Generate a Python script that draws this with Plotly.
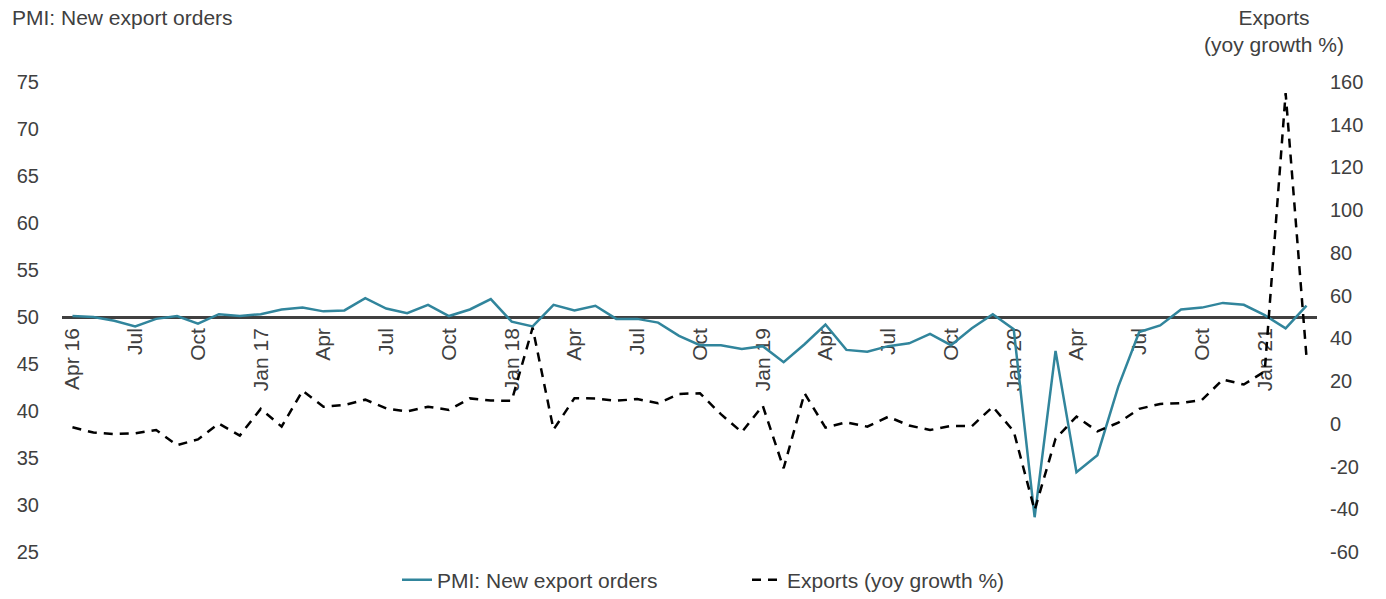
import plotly.graph_objects as go

# Monthly data, Apr 2016 - Mar 2021
months_index = list(range(60))
pmi_new_export_orders = [
    50.1, 50.0, 49.6, 49.0, 49.8, 50.1, 49.3, 50.3, 50.1,
    50.3, 50.8, 51.0, 50.6, 50.7, 52.0, 50.9, 50.4, 51.3, 50.1, 50.8, 51.9,
    49.5, 49.0, 51.3, 50.7, 51.2, 49.8, 49.8, 49.4, 48.0, 47.0, 47.0, 46.6,
    46.9, 45.2, 47.1, 49.2, 46.5, 46.3, 46.9, 47.2, 48.2, 47.0, 48.8, 50.3,
    48.7, 28.7, 46.4, 33.5, 35.3, 42.6, 48.4, 49.1, 50.8, 51.0, 51.5, 51.3,
    50.2, 48.8, 51.2,
]
exports_yoy = [
    -1.6, -4.1, -4.8, -4.4, -2.9, -10.0, -7.3, 0.1, -5.5,
    7.0, -1.3, 15.5, 8.0, 8.8, 11.3, 7.2, 5.8, 8.0, 6.5, 11.9, 10.9,
    10.8, 45.0, -2.7, 12.0, 11.9, 10.8, 11.6, 9.6, 14.0, 14.3, 4.5, -3.9,
    8.5, -20.8, 14.3, -1.8, 0.7, -1.3, 3.3, -0.8, -2.9, -1.0, -1.1, 8.0,
    -3.5, -40.4, -7.0, 3.4, -3.5, 0.5, 7.0, 9.3, 9.7, 11.2, 20.7, 18.4,
    24.5, 154.8, 31.0,
]
tick_positions = list(range(0, 60, 3))
tick_labels = ["Apr 16", "Jul", "Oct", "Jan 17", "Apr", "Jul", "Oct", "Jan 18",
               "Apr", "Jul", "Oct", "Jan 19", "Apr", "Jul", "Oct", "Jan 20",
               "Apr", "Jul", "Oct", "Jan 21"]
left_ticks = [25, 30, 35, 40, 45, 50, 55, 60, 65, 70, 75]
right_ticks = [-60, -40, -20, 0, 20, 40, 60, 80, 100, 120, 140, 160]

FONT = "Liberation Sans, Arial, sans-serif"
TXT = "#404040"

fig = go.Figure()
fig.add_trace(go.Scatter(
    x=months_index, y=pmi_new_export_orders, name="PMI: New export orders",
    mode="lines", line=dict(color="#31859C", width=2.5), yaxis="y"))
fig.add_trace(go.Scatter(
    x=months_index, y=exports_yoy, name="Exports (yoy growth %)",
    mode="lines", line=dict(color="#000000", width=2.5, dash="9px,7px"), yaxis="y2"))

fig.update_layout(
    width=1386, height=599,
    margin=dict(l=62, r=69, t=82, b=47, autoexpand=False),
    paper_bgcolor="white", plot_bgcolor="white",
    font=dict(family=FONT, size=21, color=TXT),
    showlegend=True,
    legend=dict(orientation="h", x=(397-62)/1255, xanchor="left", y=-0.06, yanchor="middle",
                font=dict(size=21, color=TXT), entrywidth=305, entrywidthmode="pixels"),
    xaxis=dict(range=[-0.5, 59.5], tickmode="array", tickvals=tick_positions,
               ticktext=tick_labels, tickangle=-90, anchor="free", position=0.5,
               showline=True, linecolor="#404040", linewidth=2.5, showgrid=False,
               zeroline=False, ticks="", layer="below traces", automargin=False,
               tickfont=dict(size=21, color=TXT), ticklabelstandoff=1),
    yaxis=dict(range=[25, 75], tickmode="array", tickvals=left_ticks,
               ticktext=[str(v) for v in left_ticks],
               showgrid=False, zeroline=False, showline=False,
               ticks="", automargin=False, ticklabelstandoff=22,
               tickfont=dict(size=20, color=TXT)),
    yaxis2=dict(range=[-60, 160], tickmode="array", tickvals=right_ticks,
                ticktext=[str(v) for v in right_ticks], overlaying="y", side="right",
                showgrid=False, zeroline=False, showline=False, ticks="",
                automargin=False, ticklabelstandoff=12,
                tickfont=dict(size=20, color=TXT)),
    annotations=[
        dict(text="PMI: New export orders", xref="paper", yref="paper",
             x=-52/1255, y=1 + (82-4)/470, xanchor="left", yanchor="top",
             showarrow=False, font=dict(size=21, color=TXT)),
        dict(text="Exports<br>(yoy growth %)", xref="paper", yref="paper",
             x=(1346-62)/1255, y=1 + (82-4)/470, xanchor="right", yanchor="top",
             align="center", showarrow=False, font=dict(size=21, color=TXT)),
    ],
)

fig.write_html("out.html")
